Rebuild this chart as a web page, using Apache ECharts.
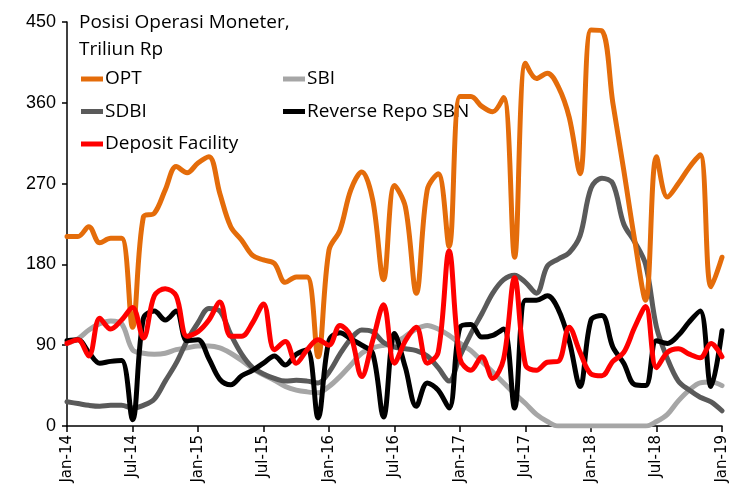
<!DOCTYPE html>
<html>
<head>
<meta charset="utf-8">
<script src="https://cdn.jsdelivr.net/npm/echarts@6/dist/echarts.min.js"></script>
<style>html,body{margin:0;padding:0;background:#fff}#c{width:730px;height:499px}</style>
</head>
<body>
<div id="c"></div>
<script>
const categories = [
"Jan-14","Feb-14","Mar-14","Apr-14","May-14","Jun-14","Jul-14","Aug-14","Sep-14","Oct-14","Nov-14","Dec-14",
"Jan-15","Feb-15","Mar-15","Apr-15","May-15","Jun-15","Jul-15","Aug-15","Sep-15","Oct-15","Nov-15","Dec-15",
"Jan-16","Feb-16","Mar-16","Apr-16","May-16","Jun-16","Jul-16","Aug-16","Sep-16","Oct-16","Nov-16","Dec-16",
"Jan-17","Feb-17","Mar-17","Apr-17","May-17","Jun-17","Jul-17","Aug-17","Sep-17","Oct-17","Nov-17","Dec-17",
"Jan-18","Feb-18","Mar-18","Apr-18","May-18","Jun-18","Jul-18","Aug-18","Sep-18","Oct-18","Nov-18","Dec-18",
"Jan-19"];
const yTicks = [0, 90, 180, 270, 360, 450];

const opt = [211,211,222,204,209,209,110,233,237,263,289,282,
  293,300,259,222,207,190,185,181,160,166,166,77,
  196,218,263,283,252,163,268,244,148,263,281,200,
  367,367,356,350,366,188,404,387,393,378,344,281,
  441,440,360,285,207,140,300,255,270,288,302,155,
  188];
const sbi = [92,97,107,114,117,114,85,81,80,81,85,87,
  89,89,87,81,73,64,57,51,44,40,38,37,
  44,55,68,81,87,90,92,100,108,112,108,101,
  92,84,72,60,48,36,25,13,5,0,0,0,
  0,0,0,0,0,0,5,13,28,40,48,49,
  45];
const sdbi = [27,25,23,22,23,23,20,23,30,50,70,95,
  115,131,128,102,80,65,58,53,50,51,50,48,
  60,80,97,107,105,93,88,86,84,78,65,50,
  78,103,125,148,163,168,160,148,178,186,193,212,
  265,276,270,225,205,180,110,75,50,40,32,27,
  17];
const rrepo = [95,96,82,70,72,73,7,120,128,118,128,95,
  96,75,52,46,56,62,70,78,68,80,85,9,
  95,104,97,90,81,10,103,65,22,48,40,20,
  110,113,99,101,108,20,140,140,145,130,95,44,
  118,123,88,70,46,45,95,92,101,116,128,44,
  106];
const depo = [92,96,78,120,108,118,132,98,145,153,145,100,
  105,118,138,100,100,115,136,85,94,70,85,96,
  90,112,100,55,95,135,70,95,110,70,82,195,
  75,62,77,53,75,165,68,62,71,72,110,82,
  58,56,72,82,110,133,65,82,86,80,76,92,
  77];

const names = ["OPT","SBI","SDBI","Reverse Repo SBN","Deposit Facility"];
const colors = ["#E46C0A","#A6A6A6","#5A5A5A","#000000","#FF0000"];
const dataSets = [opt, sbi, sdbi, rrepo, depo];
const order = [1, 2, 0, 3, 4];

const chart = echarts.init(document.getElementById('c'), null, {renderer:'canvas'});
const series = order.map(i => ({
  name: names[i], type: 'line', data: dataSets[i], smooth: 0.35,
  showSymbol: false, symbol: 'none',
  lineStyle: {color: colors[i], width: 5, cap: 'round', join: 'round'},
  itemStyle: {color: colors[i]},
  z: 2 + order.indexOf(i)
}));

const legendText = {fontFamily: 'Open Sans', fontSize: 19, color: '#000', lineHeight: 20, padding: [0,0,0,-3]};
chart.setOption({
  animation: false,
  title: {
    text: 'Posisi Operasi Moneter,\nTriliun Rp',
    left: 79, top: 9, padding: 0,
    textStyle: {fontFamily: 'Open Sans', fontSize: 19, fontWeight: 'normal', color: '#000', lineHeight: 27}
  },
  legend: [
    {data: ['OPT','SDBI','Deposit Facility'], orient: 'vertical', left: 81, top: 69,
     itemWidth: 22, itemHeight: 5, itemGap: 12.5, icon: 'rect', textStyle: legendText, padding: 0},
    {data: ['SBI','Reverse Repo SBN'], orient: 'vertical', left: 283, top: 69,
     itemWidth: 22, itemHeight: 5, itemGap: 12.5, icon: 'rect', textStyle: legendText, padding: 0}
  ],
  grid: {left: 67, right: 8, top: 22, bottom: 73, containLabel: false},
  xAxis: {
    type: 'category', data: categories, boundaryGap: false,
    axisLine: {show: true, lineStyle: {color: '#000', width: 1.5}},
    axisTick: {show: true, interval: 5, length: 6, lineStyle: {color: '#000', width: 1.5}},
    axisLabel: {interval: 5, rotate: 90, fontFamily: 'DejaVu Sans', fontSize: 15, color: '#000', margin: 9},
    splitLine: {show: false}
  },
  yAxis: {
    type: 'value', min: yTicks[0], max: yTicks[yTicks.length-1], interval: 90,
    axisLine: {show: true, lineStyle: {color: '#000', width: 1.5}},
    axisTick: {show: true, length: 5, lineStyle: {color: '#000', width: 1.5}},
    axisLabel: {fontFamily: 'Liberation Sans', fontSize: 18, color: '#000', margin: 11},
    splitLine: {show: false}
  },
  series: series
});
</script>
</body>
</html>
